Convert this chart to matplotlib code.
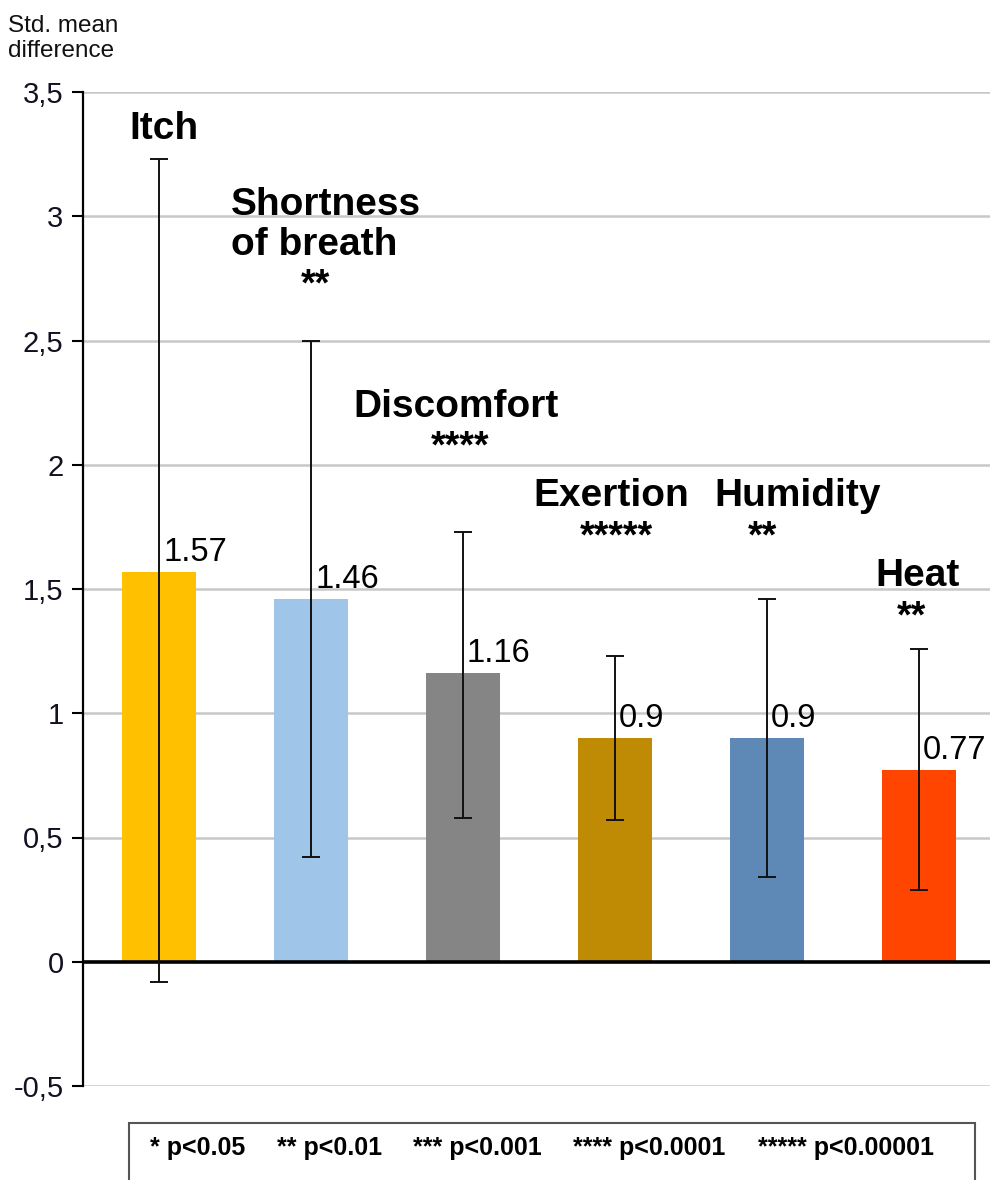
import matplotlib
matplotlib.use("Agg")
import matplotlib.pyplot as plt
from matplotlib.patches import Rectangle

plt.rcParams['font.family'] = ['Liberation Sans', 'DejaVu Sans']

# ---- data ----
categories = ["Itch", "Shortness\nof breath", "Discomfort", "Exertion", "Humidity", "Heat"]
values = [1.57, 1.46, 1.16, 0.9, 0.9, 0.77]
err_upper = [3.23, 2.50, 1.73, 1.23, 1.46, 1.26]
err_lower = [-0.08, 0.42, 0.58, 0.57, 0.34, 0.29]
stars = ["", "**", "****", "*****", "**", "**"]
value_labels = ["1.57", "1.46", "1.16", "0.9", "0.9", "0.77"]
colors = ["#FFC000", "#9FC5E8", "#858585", "#BF8A04", "#5E89B6", "#FF4500"]
yticks = [-0.5, 0, 0.5, 1, 1.5, 2, 2.5, 3, 3.5]
ytick_labels = ["-0,5", "0", "0,5", "1", "1,5", "2", "2,5", "3", "3,5"]
legend_items = ["* p<0.05", "** p<0.01", "*** p<0.001", "**** p<0.0001", "***** p<0.00001"]

# label placement (data coords): (x, baseline y of last line, ha)
cat_pos = [(0.033, 3.312, 'center'), (0.474, 2.845, 'left'), (1.957, 2.193, 'center'),
           (2.974, 1.835, 'center'), (4.204, 1.835, 'center'), (4.99, 1.513, 'center')]
star_pos = [(0, 0), (1.03, 2.68), (1.98, 2.028), (3.007, 1.666), (3.967, 1.666), (4.95, 1.344)]

W, H = 990, 1180
fig = plt.figure(figsize=(W / 100, H / 100), dpi=100)
ax_left, ax_right = 83 / W, 995 / W
ax_bottom, ax_top = 1 - 1086 / H, 1 - 92 / H
ax = fig.add_axes([ax_left, ax_bottom, ax_right - ax_left, ax_top - ax_bottom])
ax.set_xlim(-0.5, 5.5)
ax.set_ylim(-0.5, 3.5)

x = list(range(len(values)))
lo = [v - l for v, l in zip(values, err_lower)]
hi = [u - v for v, u in zip(values, err_upper)]

for t in yticks:
    if t != 0:
        ax.axhline(t, color="#C8C8C8", lw=1.8, zorder=0)
ax.bar(x, values, width=0.49, color=colors, zorder=2)
ax.axhline(0, color="black", lw=2.6, zorder=3)
ax.errorbar(x, values, yerr=[lo, hi], fmt='none', ecolor='#111111', elinewidth=1.4,
            capsize=6.5, capthick=1.4, zorder=4)

ax.set_yticks(yticks)
ax.set_yticklabels(ytick_labels, fontsize=21, color="#111122")
ax.tick_params(axis='y', direction='out', length=8, width=1.5, pad=6, color='black')
ax.set_xticks([])
for s in ['top', 'right', 'bottom']:
    ax.spines[s].set_visible(False)
ax.spines['left'].set_linewidth(1.6)

for i, (name, (cx, cy, ha)) in enumerate(zip(categories, cat_pos)):
    ax.text(cx, cy, name, fontsize=28, fontweight='bold', ha=ha, va='baseline',
            linespacing=1.12, zorder=5)
for i, (s, (sx, sy)) in enumerate(zip(stars, star_pos)):
    if s:
        ax.text(sx, sy, s, fontsize=27, fontweight='bold', ha='center', va='baseline', zorder=5)

for i, (v, lab) in enumerate(zip(values, value_labels)):
    ax.annotate(lab, (x[i], v), xytext=(4, 11), textcoords='offset pixels',
                fontsize=23.5, ha='left', va='baseline', zorder=5)

fig.text(8 / W, 1 - 57 / H, "Std. mean\ndifference", fontsize=17.5, ha='left', va='baseline',
         linespacing=1.15, color="#111111")

# significance legend box
rect = Rectangle((129 / W, 1 - 1200 / H), (975 - 129) / W, (1200 - 1123) / H,
                 transform=fig.transFigure, fill=False, edgecolor="#555555", lw=1.5)
fig.patches.append(rect)
legend_x = [150, 277, 413, 573, 758]
for lx, item in zip(legend_x, legend_items):
    fig.text(lx / W, 1 - 1155 / H, item, fontsize=18, fontweight='bold',
             ha='left', va='baseline')

fig.savefig("out.png", dpi=100)
